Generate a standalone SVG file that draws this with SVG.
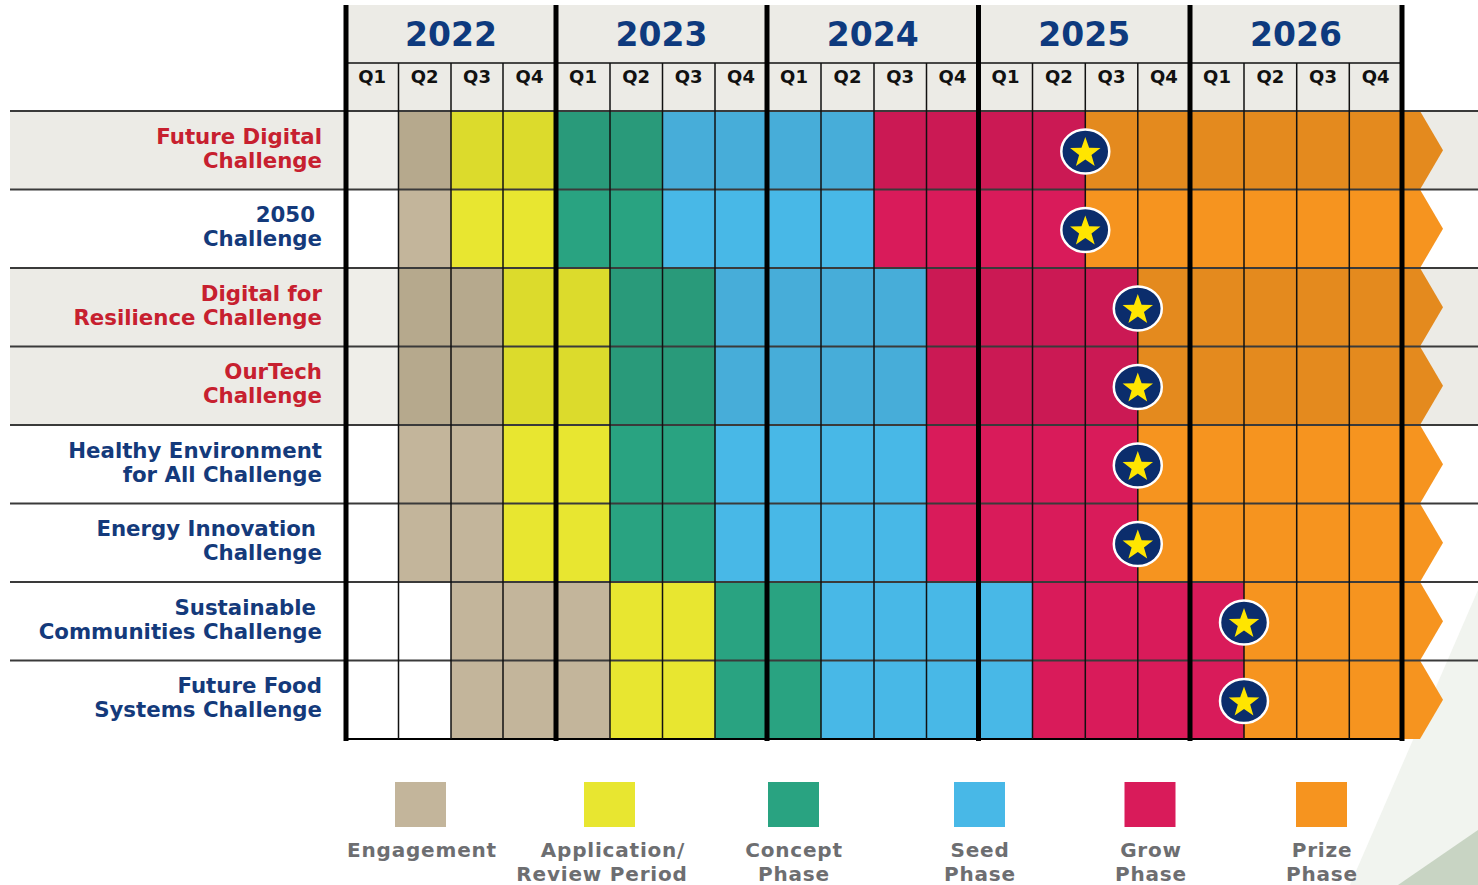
<svg xmlns="http://www.w3.org/2000/svg" width="1478" height="885" viewBox="0 0 1478 885">
<style>
.yr{font-family:"DejaVu Sans",sans-serif;font-weight:bold;font-size:33px;fill:#0e3a7e;text-anchor:middle}
.q{font-family:"DejaVu Sans",sans-serif;font-weight:bold;font-size:18px;fill:#111;text-anchor:middle}
.lbl{font-family:"DejaVu Sans",sans-serif;font-weight:bold;font-size:21.3px;text-anchor:end}
.red{fill:#c7202f}.navy{fill:#143a7b}
.leg{font-family:"DejaVu Sans",sans-serif;font-weight:bold;font-size:20px;fill:#6d6e71;text-anchor:middle;letter-spacing:0.8px}
.band{fill:#ecebe6}
.s-tan{fill:#b6a98d}.s-yel{fill:#dcdb2c}.s-grn{fill:#299a7a}.s-blu{fill:#47add9}.s-red{fill:#cb1954}.s-org{fill:#e48a1e}.s-emp{fill:#efeee9}
.tan{fill:#c3b59b}.yel{fill:#e8e630}.grn{fill:#29a381}.blu{fill:#48b8e7}.rd{fill:#d91b5a}.org{fill:#f6941f}
.hl{stroke:#3a3a3a;stroke-width:2}
.thin{stroke:#111;stroke-width:1.5}
.thick{stroke:#000;stroke-width:5}
</style>
<defs>
<g id="star">
<ellipse cx="0" cy="0" rx="24" ry="22" fill="#0b2d6c" stroke="#fff" stroke-width="2.5"/>
<polygon transform="translate(0,1.5)" fill="#ffe500" points="0,-16 3.82,-5.26 15.22,-4.94 6.18,2.01 9.4,12.94 0,6.5 -9.4,12.94 -6.18,2.01 -15.22,-4.94 -3.82,-5.26"/>
</g>
</defs>
<rect width="1478" height="885" fill="#fff"/>
<g id="decoration">
<polygon points="1350,885 1478,590 1478,885" fill="#f1f4ef"/>
<polygon points="1398,885 1478,830 1478,885" fill="#c8d4c3"/>
</g>
<g id="header">
<rect x="346" y="5" width="1056" height="106" class="band"/>
<text class="yr" x="451" y="46">2022</text>
<text class="yr" x="661.5" y="46">2023</text>
<text class="yr" x="872.7" y="46">2024</text>
<text class="yr" x="1084.2" y="46">2025</text>
<text class="yr" x="1296" y="46">2026</text>
<g class="q">
<text x="372.2" y="83">Q1</text><text x="424.7" y="83">Q2</text><text x="477" y="83">Q3</text><text x="529.5" y="83">Q4</text>
<text x="583" y="83">Q1</text><text x="636.2" y="83">Q2</text><text x="688.7" y="83">Q3</text><text x="741" y="83">Q4</text>
<text x="794" y="83">Q1</text><text x="847.5" y="83">Q2</text><text x="900.2" y="83">Q3</text><text x="952.5" y="83">Q4</text>
<text x="1005.5" y="83">Q1</text><text x="1058.9" y="83">Q2</text><text x="1111.5" y="83">Q3</text><text x="1163.9" y="83">Q4</text>
<text x="1217" y="83">Q1</text><text x="1270.3" y="83">Q2</text><text x="1323" y="83">Q3</text><text x="1375.6" y="83">Q4</text>
</g>
</g>
<g id="row1">
<rect x="10" y="111" width="1468" height="78.5" class="band"/>
<rect x="346" y="111" width="52.5" height="78.5" class="s-emp"/>
<rect x="398.5" y="111" width="52.5" height="78.5" class="s-tan"/>
<rect x="451" y="111" width="105" height="78.5" class="s-yel"/>
<rect x="556" y="111" width="106.5" height="78.5" class="s-grn"/>
<rect x="662.5" y="111" width="211.5" height="78.5" class="s-blu"/>
<rect x="874" y="111" width="211.3" height="78.5" class="s-red"/>
<polygon points="1085.3,111 1420,111 1443,150.25 1420,189.5 1085.3,189.5" class="s-org"/>
<text class="lbl red" x="322" y="143.7">Future Digital</text>
<text class="lbl red" x="322" y="167.7">Challenge</text>
</g>
<g id="row2">
<rect x="398.5" y="189.5" width="52.5" height="78.5" class="tan"/>
<rect x="451" y="189.5" width="105" height="78.5" class="yel"/>
<rect x="556" y="189.5" width="106.5" height="78.5" class="grn"/>
<rect x="662.5" y="189.5" width="211.5" height="78.5" class="blu"/>
<rect x="874" y="189.5" width="211.3" height="78.5" class="rd"/>
<polygon points="1085.3,189.5 1420,189.5 1443,228.75 1420,268 1085.3,268" class="org"/>
<text class="lbl navy" x="315" y="222.2">2050</text>
<text class="lbl navy" x="322" y="246.2">Challenge</text>
</g>
<g id="row3">
<rect x="10" y="268" width="1468" height="78.5" class="band"/>
<rect x="346" y="268" width="52.5" height="78.5" class="s-emp"/>
<rect x="398.5" y="268" width="104.5" height="78.5" class="s-tan"/>
<rect x="503" y="268" width="107" height="78.5" class="s-yel"/>
<rect x="610" y="268" width="105" height="78.5" class="s-grn"/>
<rect x="715" y="268" width="211.5" height="78.5" class="s-blu"/>
<rect x="926.5" y="268" width="211.3" height="78.5" class="s-red"/>
<polygon points="1137.8,268 1420,268 1443,307.25 1420,346.5 1137.8,346.5" class="s-org"/>
<text class="lbl red" x="322" y="300.7">Digital for</text>
<text class="lbl red" x="322" y="324.7">Resilience Challenge</text>
</g>
<g id="row4">
<rect x="10" y="346.5" width="1468" height="78.5" class="band"/>
<rect x="346" y="346.5" width="52.5" height="78.5" class="s-emp"/>
<rect x="398.5" y="346.5" width="104.5" height="78.5" class="s-tan"/>
<rect x="503" y="346.5" width="107" height="78.5" class="s-yel"/>
<rect x="610" y="346.5" width="105" height="78.5" class="s-grn"/>
<rect x="715" y="346.5" width="211.5" height="78.5" class="s-blu"/>
<rect x="926.5" y="346.5" width="211.3" height="78.5" class="s-red"/>
<polygon points="1137.8,346.5 1420,346.5 1443,385.75 1420,425 1137.8,425" class="s-org"/>
<text class="lbl red" x="322" y="379.2">OurTech</text>
<text class="lbl red" x="322" y="403.2">Challenge</text>
</g>
<g id="row5">
<rect x="398.5" y="425" width="104.5" height="78.5" class="tan"/>
<rect x="503" y="425" width="107" height="78.5" class="yel"/>
<rect x="610" y="425" width="105" height="78.5" class="grn"/>
<rect x="715" y="425" width="211.5" height="78.5" class="blu"/>
<rect x="926.5" y="425" width="211.3" height="78.5" class="rd"/>
<polygon points="1137.8,425 1420,425 1443,464.25 1420,503.5 1137.8,503.5" class="org"/>
<text class="lbl navy" x="322" y="457.7">Healthy Environment</text>
<text class="lbl navy" x="322" y="481.7">for All Challenge</text>
</g>
<g id="row6">
<rect x="398.5" y="503.5" width="104.5" height="78.5" class="tan"/>
<rect x="503" y="503.5" width="107" height="78.5" class="yel"/>
<rect x="610" y="503.5" width="105" height="78.5" class="grn"/>
<rect x="715" y="503.5" width="211.5" height="78.5" class="blu"/>
<rect x="926.5" y="503.5" width="211.3" height="78.5" class="rd"/>
<polygon points="1137.8,503.5 1420,503.5 1443,542.75 1420,582 1137.8,582" class="org"/>
<text class="lbl navy" x="316" y="536.2">Energy Innovation</text>
<text class="lbl navy" x="322" y="560.2">Challenge</text>
</g>
<g id="row7">
<rect x="451" y="582" width="159" height="78.5" class="tan"/>
<rect x="610" y="582" width="105" height="78.5" class="yel"/>
<rect x="715" y="582" width="106" height="78.5" class="grn"/>
<rect x="821" y="582" width="211.5" height="78.5" class="blu"/>
<rect x="1032.5" y="582" width="211.5" height="78.5" class="rd"/>
<polygon points="1244,582 1420,582 1443,621.25 1420,660.5 1244,660.5" class="org"/>
<text class="lbl navy" x="316" y="614.7">Sustainable</text>
<text class="lbl navy" x="322" y="638.7">Communities Challenge</text>
</g>
<g id="row8">
<rect x="451" y="660.5" width="159" height="78.5" class="tan"/>
<rect x="610" y="660.5" width="105" height="78.5" class="yel"/>
<rect x="715" y="660.5" width="106" height="78.5" class="grn"/>
<rect x="821" y="660.5" width="211.5" height="78.5" class="blu"/>
<rect x="1032.5" y="660.5" width="211.5" height="78.5" class="rd"/>
<polygon points="1244,660.5 1420,660.5 1443,699.75 1420,739 1244,739" class="org"/>
<text class="lbl navy" x="322" y="693.2">Future Food</text>
<text class="lbl navy" x="322" y="717.2">Systems Challenge</text>
</g>
<g id="grid">
<line class="hl" x1="10" y1="111" x2="1478" y2="111"/>
<line class="hl" x1="10" y1="189.5" x2="1478" y2="189.5"/>
<line class="hl" x1="10" y1="268" x2="1478" y2="268"/>
<line class="hl" x1="10" y1="346.5" x2="1478" y2="346.5"/>
<line class="hl" x1="10" y1="425" x2="1478" y2="425"/>
<line class="hl" x1="10" y1="503.5" x2="1478" y2="503.5"/>
<line class="hl" x1="10" y1="582" x2="1478" y2="582"/>
<line class="hl" x1="10" y1="660.5" x2="1478" y2="660.5"/>
<line stroke="#000" stroke-width="2" x1="344" y1="739" x2="1402" y2="739"/>
<line class="thin" x1="346" y1="63" x2="1402" y2="63"/>
<g class="thin">
<line x1="398.5" y1="63" x2="398.5" y2="739"/><line x1="451" y1="63" x2="451" y2="739"/><line x1="503" y1="63" x2="503" y2="739"/>
<line x1="610" y1="63" x2="610" y2="739"/><line x1="662.5" y1="63" x2="662.5" y2="739"/><line x1="715" y1="63" x2="715" y2="739"/>
<line x1="821" y1="63" x2="821" y2="739"/><line x1="874" y1="63" x2="874" y2="739"/><line x1="926.5" y1="63" x2="926.5" y2="739"/>
<line x1="1032.5" y1="63" x2="1032.5" y2="739"/><line x1="1085.3" y1="63" x2="1085.3" y2="739"/><line x1="1137.8" y1="63" x2="1137.8" y2="739"/>
<line x1="1244" y1="63" x2="1244" y2="739"/><line x1="1296.7" y1="63" x2="1296.7" y2="739"/><line x1="1349.3" y1="63" x2="1349.3" y2="739"/>
</g>
<g class="thick">
<line x1="346" y1="5" x2="346" y2="741"/><line x1="556" y1="5" x2="556" y2="741"/><line x1="767" y1="5" x2="767" y2="741"/>
<line x1="978.5" y1="5" x2="978.5" y2="741"/><line x1="1190" y1="5" x2="1190" y2="741"/><line x1="1402" y1="5" x2="1402" y2="741"/>
</g>
</g>
<g id="milestones">
<use href="#star" x="1085.3" y="151.5"/>
<use href="#star" x="1085.3" y="230"/>
<use href="#star" x="1137.8" y="308.5"/>
<use href="#star" x="1137.8" y="387"/>
<use href="#star" x="1137.8" y="465.5"/>
<use href="#star" x="1137.8" y="544"/>
<use href="#star" x="1244" y="622.5"/>
<use href="#star" x="1244" y="701"/>
</g>
<g id="connectors"/>
<g id="legend">
<g id="leg-engagement"><rect x="395" y="782" width="51" height="45" class="tan"/><text class="leg" x="422" y="857">Engagement</text></g>
<g id="leg-application"><rect x="584" y="782" width="51" height="45" class="yel"/><text class="leg" x="613" y="857">Application/</text><text class="leg" x="602" y="881">Review Period</text></g>
<g id="leg-concept"><rect x="768" y="782" width="51" height="45" class="grn"/><text class="leg" x="794" y="857">Concept</text><text class="leg" x="794" y="881">Phase</text></g>
<g id="leg-seed"><rect x="954" y="782" width="51" height="45" class="blu"/><text class="leg" x="980" y="857">Seed</text><text class="leg" x="980" y="881">Phase</text></g>
<g id="leg-grow"><rect x="1124.5" y="782" width="51" height="45" class="rd"/><text class="leg" x="1151" y="857">Grow</text><text class="leg" x="1151" y="881">Phase</text></g>
<g id="leg-prize"><rect x="1296" y="782" width="51" height="45" class="org"/><text class="leg" x="1322" y="857">Prize</text><text class="leg" x="1322" y="881">Phase</text></g>
</g>
</svg>
